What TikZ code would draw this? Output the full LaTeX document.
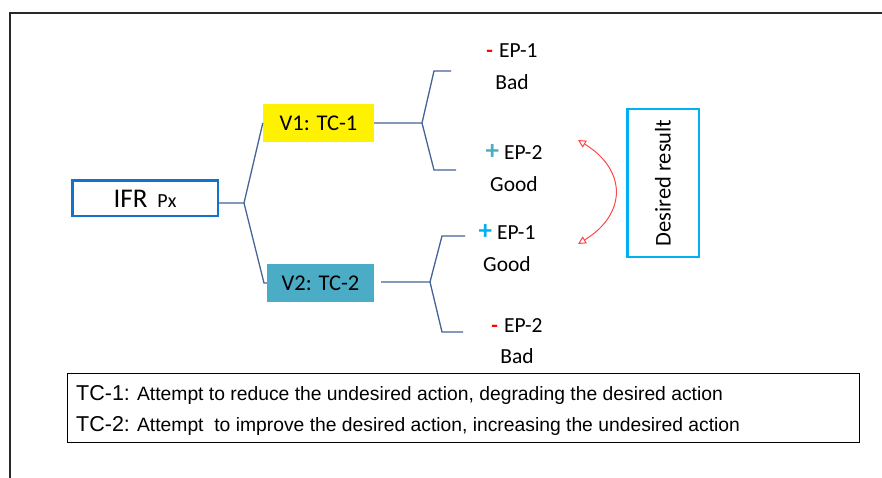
\documentclass[tikz,border=0pt]{standalone}
\usepackage{fontspec}
\setmainfont{Carlito}
\newfontfamily\legendfont{Liberation Sans}
\usetikzlibrary{arrows.meta}

\definecolor{ifrblue}{RGB}{20,115,200}
\definecolor{linkblue}{RGB}{70,98,150}
\definecolor{tealfill}{RGB}{75,172,198}
\definecolor{skyblue}{RGB}{0,176,240}
\definecolor{plusteal}{RGB}{75,172,198}
\definecolor{signred}{RGB}{255,0,0}
\definecolor{arcred}{RGB}{255,70,70}
\definecolor{framegray}{RGB}{40,40,40}

\newcommand{\minussign}{\textcolor{signred}{\textbf{-}}\hspace{6pt}}
\newcommand{\plussign}[1]{\textcolor{#1}{\fontsize{27}{30}\selectfont\textbf{+}}\hspace{5pt}}

\tikzset{
  link/.style={draw=linkblue, line width=1.3pt},
  boxtext/.style={font=\fontsize{22.5}{27}\selectfont, inner sep=0pt},
  eplabel/.style={anchor=base, inner sep=0pt, font=\fontsize{21.5}{26}\selectfont},
  legtext/.style={anchor=base west, inner sep=0pt, font=\legendfont\fontsize{19.3}{23}\selectfont},
  swaparrow/.style={draw=arcred, line width=1pt,
    {Triangle[open, length=8pt, width=8pt]}-{Triangle[open, length=8pt, width=8pt]}}
}

\begin{document}
\begin{tikzpicture}[x=1pt, y=-1pt]
\useasboundingbox (0,0) rectangle (882,478);

% outer frame (left and top edges)
\draw[framegray, line width=1.5pt] (10,478) -- (10,13) -- (882,13);

% root and the two variants
\node[draw=ifrblue, line width=2.5pt, minimum width=145.5pt, minimum height=35.5pt,
      inner sep=0pt] (ifr) at (145,198.5)
      {\fontsize{27}{30}\selectfont IFR\hspace{10pt}{\fontsize{20}{24}\selectfont Px}};
\node[boxtext, fill=yellow, minimum width=111pt, minimum height=38pt] (v1) at (318.5,123) {V1: TC-1};
\node[boxtext, fill=tealfill, minimum width=107pt, minimum height=38pt] (v2) at (320.5,283) {V2: TC-2};

% branch points and free ends
\coordinate (b0) at (244,203);
\coordinate (c2) at (264,283);
\coordinate (b1) at (422,123);
\coordinate (t1) at (434,71);
\coordinate (t1e) at (451,71);
\coordinate (u1) at (434,170);
\coordinate (u1e) at (456,170);
\coordinate (s2) at (381,282);
\coordinate (b2) at (430,282);
\coordinate (t2) at (442,236);
\coordinate (t2e) at (465,236);
\coordinate (u2) at (442,332);
\coordinate (u2e) at (463,332);

% tree connectors
\draw[link] (ifr.east |- b0) -- (b0) -- (v1.west);
\draw[link] (b0) -- (c2) -- (v2.west);
\draw[link] (v1.east) -- (b1) -- (t1) -- (t1e);
\draw[link] (b1) -- (u1) -- (u1e);
\draw[link] (s2) -- (b2) -- (t2) -- (t2e);
\draw[link] (b2) -- (u2) -- (u2e);

% evaluation parameters
\node[eplabel] (ep1a) at (512,58) {\minussign EP-1};
\node[eplabel] (ep1b) at (512,90) {Bad};
\node[eplabel] (ep2a) at (514,160) {\plussign{plusteal}EP-2};
\node[eplabel] (ep2b) at (514,192) {Good};
\node[eplabel] (ep3a) at (507,240) {\plussign{skyblue}EP-1};
\node[eplabel] (ep3b) at (507,271) {Good};
\node[eplabel] (ep4a) at (517,332) {\minussign EP-2};
\node[eplabel] (ep4b) at (517,363) {Bad};

% desired result and the swap arc
\node[draw=skyblue, line width=2.5pt, minimum width=71.5pt, minimum height=147.5pt,
      inner sep=0pt] (desired) at (663,183)
      {\rotatebox{90}{\fontsize{22.5}{27}\selectfont Desired result}};
\coordinate (a1) at (578,140);
\coordinate (a2) at (578,244);
\draw[swaparrow] (a1) .. controls (627,170) and (627,214) .. (a2);

% legend
\node[draw=black, line width=1pt, minimum width=792pt, minimum height=69pt,
      inner sep=0pt] (legend) at (463.5,407.5) {};
\node[legtext] (leg1) at (76,400)
  {{\fontsize{21.5}{25}\selectfont TC-1:} Attempt to reduce the undesired action, degrading the desired action};
\node[legtext] (leg2) at (76,431)
  {{\fontsize{21.5}{25}\selectfont TC-2:} Attempt\ \ to improve the desired action, increasing the undesired action};
\end{tikzpicture}
\end{document}
